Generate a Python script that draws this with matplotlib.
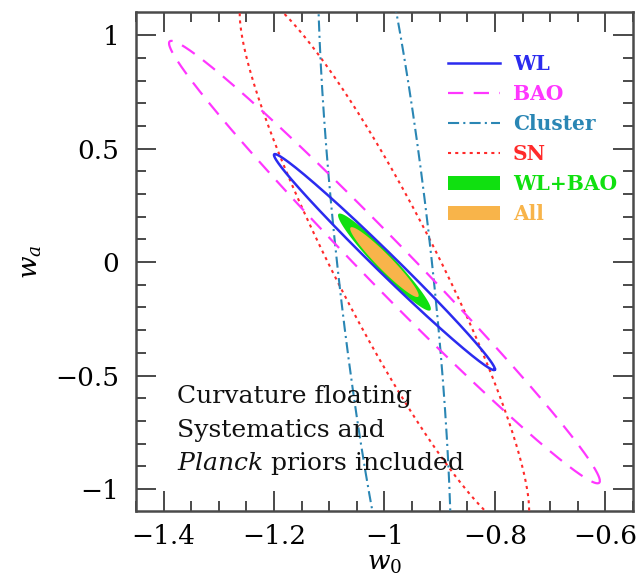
import numpy as np
import matplotlib
matplotlib.use('Agg')
import matplotlib.pyplot as plt
from matplotlib.patches import Patch
from matplotlib.lines import Line2D

plt.rcParams['font.family'] = ['DejaVu Serif']
plt.rcParams['mathtext.fontset'] = 'dejavuserif'
plt.rcParams['lines.scale_dashes'] = False

# ---- data: 68% contours in (w0, wa) ----
names = ['WL', 'BAO', 'Cluster', 'SN', 'WL+BAO', 'All']
center_w0 = [-1.0, -1.0, -1.0, -1.0, -1.0, -1.0]
center_wa = [0.0, 0.0, 0.0, 0.0, 0.0, 0.0]
half_w0 = [0.200, 0.390, 0.121, 0.262, 0.084, 0.062]   # half extent along w0
half_wa = [0.476, 0.975, 1.92, 1.19, 0.214, 0.154]     # half extent along wa
corr = [-0.9915, -0.989, -0.704, -0.920, -0.962, -0.955]

xticks = [-1.4, -1.2, -1.0, -0.8, -0.6]
xticklabels = ['\u22121.4', '\u22121.2', '\u22121', '\u22120.8', '\u22120.6']
yticks = [-1.0, -0.5, 0.0, 0.5, 1.0]
yticklabels = ['\u22121', '\u22120.5', '0', '0.5', '1']

note_lines = ['Curvature floating', 'Systematics and',
              r'$\mathit{Planck}$ priors included']

colors = {'WL': '#2b2bef', 'BAO': '#ff36ff', 'Cluster': '#2a86b4',
          'SN': '#ff2a2a', 'WL+BAO': '#10e010', 'All': '#f8b44a'}


def ellipse(i, n=721):
    t = np.linspace(0, 2 * np.pi, n)
    r = corr[i]
    x = center_w0[i] + half_w0[i] * np.cos(t)
    y = center_wa[i] + half_wa[i] * (r * np.cos(t) + np.sqrt(1 - r * r) * np.sin(t))
    return x, y


fig = plt.figure(figsize=(6.41, 5.84), dpi=100)
ax = fig.add_axes([0.212, 0.125, 0.9875 - 0.212, 0.979 - 0.125])

# filled contours
for nm in ['WL+BAO', 'All']:
    i = names.index(nm)
    x, y = ellipse(i)
    ax.fill(x, y, color=colors[nm], lw=0, zorder=2)

line_styles = {
    'WL': dict(ls='-', lw=1.8),
    'BAO': dict(ls=(0, (11, 7.5)), lw=1.6),
    'Cluster': dict(ls=(0, (8, 3, 1.5, 3)), lw=1.5),
    'SN': dict(ls=(0, (2.2, 3)), lw=1.5),
}
for nm in ['SN', 'Cluster', 'BAO', 'WL']:
    i = names.index(nm)
    x, y = ellipse(i)
    ax.plot(x, y, color=colors[nm], zorder=3, **line_styles[nm])

ax.set_xlim(-1.449, -0.551)
ax.set_ylim(-1.097, 1.101)

ax.set_xticks(xticks)
ax.set_xticklabels(xticklabels)
ax.set_yticks(yticks)
ax.set_yticklabels(yticklabels)
ax.set_xticks(np.arange(-1.45, -0.549, 0.05), minor=True)
ax.set_yticks(np.arange(-1.0, 1.01, 0.1), minor=True)

sc = '#4a4a4a'
for s in ax.spines.values():
    s.set_color(sc)
    s.set_linewidth(1.8)
ax.tick_params(which='both', direction='in', top=True, right=True, color=sc,
               width=1.4)
ax.tick_params(which='major', length=14.5, labelsize=19)
ax.tick_params(which='minor', length=7.5)
ax.tick_params(axis='y', which='major', pad=12)
ax.tick_params(axis='x', which='major', pad=9)

ax.set_xlabel(r'$w_0$', fontsize=19, labelpad=2)
ax.set_ylabel(r'$w_a$', fontsize=19, labelpad=8)

# legend
handles = [
    Line2D([], [], color=colors['WL'], **line_styles['WL']),
    Line2D([], [], color=colors['BAO'], **line_styles['BAO']),
    Line2D([], [], color=colors['Cluster'], **line_styles['Cluster']),
    Line2D([], [], color=colors['SN'], **line_styles['SN']),
    Patch(color=colors['WL+BAO'], lw=0),
    Patch(color=colors['All'], lw=0),
]
leg = ax.legend(handles, names, loc='upper left', bbox_to_anchor=(0.628, 0.917),
                frameon=False, prop={'size': 14.5, 'weight': 'bold'},
                handlelength=2.6, handletextpad=0.62,
                labelspacing=0.5, borderpad=0, borderaxespad=0)
for txt, nm in zip(leg.get_texts(), names):
    txt.set_color(colors[nm])

# note
base_y = [0.2164, 0.148, 0.082]
for s, yb in zip(note_lines, base_y):
    ax.text(0.0825, yb, s, transform=ax.transAxes, fontsize=18, va='baseline',
            ha='left', color='#111111', zorder=5)

fig.savefig('out.png', dpi=100)
